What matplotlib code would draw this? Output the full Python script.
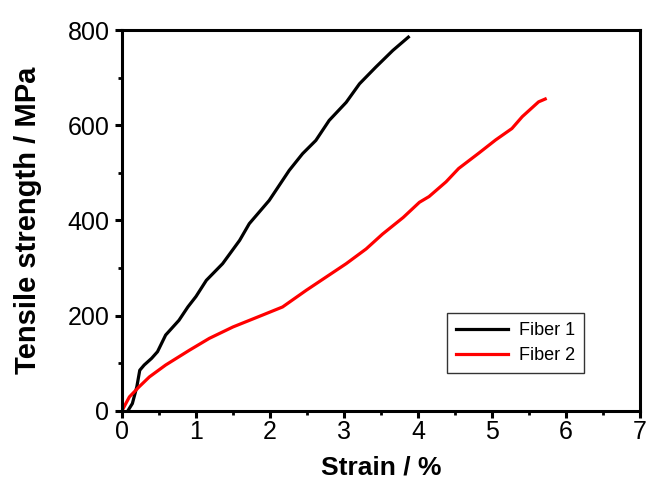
import numpy as np
import matplotlib
matplotlib.use("Agg")
import matplotlib.pyplot as plt
from matplotlib.ticker import MultipleLocator

# values
fiber1_strain = [0.08, 0.14, 0.20, 0.24, 0.30, 0.40, 0.48, 0.59, 0.77, 0.89, 1.00, 1.14,
                 1.36, 1.59, 1.72, 1.99, 2.26, 2.44, 2.62, 2.80, 3.03, 3.21, 3.43, 3.66, 3.87]
fiber1_stress = [0, 15, 50, 85, 96, 110, 124, 159, 190, 218, 240, 274,
                 309, 358, 393, 442, 505, 540, 568, 610, 648, 687, 722, 757, 785]

fiber2_strain = [0.0, 0.10, 0.23, 0.37, 0.59, 0.91, 1.18, 1.50, 1.90, 2.17, 2.49, 2.76,
                 3.03, 3.30, 3.52, 3.80, 4.02, 4.15, 4.38, 4.55, 4.82, 5.05, 5.27, 5.41,
                 5.63, 5.72]
fiber2_stress = [0, 29, 50, 71, 96, 127, 152, 176, 201, 218, 253, 281,
                 309, 340, 371, 406, 438, 450, 481, 509, 541, 569, 593, 618,
                 649, 655]

labels = ["Fiber 1", "Fiber 2"]

plt.rcParams['font.family'] = ['Liberation Sans', 'DejaVu Sans']

fig = plt.figure(figsize=(6.51, 4.88), dpi=100)
ax = fig.add_axes([0.1874, 0.1584, 0.7956, 0.7801])

ax.plot(fiber1_strain, fiber1_stress, color='black', lw=2.3, label=labels[0])
ax.plot(fiber2_strain, fiber2_stress, color='red', lw=2.3, label=labels[1])

ax.set_xlim(0, 7)
ax.set_ylim(0, 800)
ax.xaxis.set_major_locator(MultipleLocator(1))
ax.xaxis.set_minor_locator(MultipleLocator(0.5))
ax.yaxis.set_major_locator(MultipleLocator(200))
ax.yaxis.set_minor_locator(MultipleLocator(100))

for s in ax.spines.values():
    s.set_linewidth(2.2)
ax.tick_params(which='major', direction='out', length=5, width=2.2, labelsize=18, pad=2)
ax.tick_params(axis='y', which='major', pad=4)
ax.tick_params(which='minor', direction='out', length=3, width=2.0)

ax.set_xlabel("Strain / %", fontsize=19, fontweight='bold', labelpad=8)
ax.set_ylabel("Tensile strength / MPa", fontsize=21, fontweight='bold', labelpad=18)

leg = ax.legend(loc='lower left', bbox_to_anchor=(0.627, 0.099), fontsize=13,
                frameon=True, fancybox=False, edgecolor='black', handlelength=2.9,
                borderpad=0.5, labelspacing=0.45, handletextpad=0.6, borderaxespad=0)
leg.get_frame().set_linewidth(1.0)

fig.savefig("out.png", dpi=100)
